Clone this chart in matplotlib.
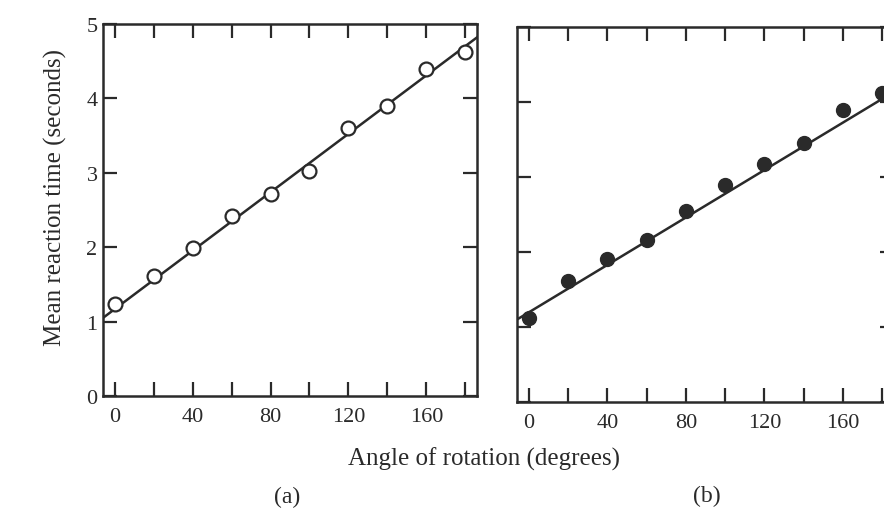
import matplotlib
matplotlib.use("Agg")
import matplotlib.pyplot as plt
import numpy as np

# Data
angles = [0, 20, 40, 60, 80, 100, 120, 140, 160, 180]
rt_a = [1.23, 1.61, 1.99, 2.42, 2.71, 3.03, 3.60, 3.90, 4.39, 4.62]
rt_b = [1.12, 1.62, 1.91, 2.16, 2.55, 2.89, 3.17, 3.45, 3.90, 4.12]
line_a_x = [-6, 186]
line_a_y = [1.05, 4.82]
line_b_x = [-6, 190]
line_b_y = [1.10, 4.20]
xtick_labels = ["0", "40", "80", "120", "160"]
ytick_labels = ["0", "1", "2", "3", "4", "5"]

W, H = 884, 510
fig = plt.figure(figsize=(W / 100, H / 100), dpi=100)
fig.patch.set_facecolor("white")
serif = ["Liberation Serif", "DejaVu Serif"]
ink = "#2a2a2a"

def axes_px(l, r, t, b):
    return fig.add_axes([l / W, 1 - b / H, (r - l) / W, (b - t) / H])

ax_a = axes_px(103, 477, 25, 397)
ax_b = axes_px(517, 894, 28, 403)

for ax, rt, lx, ly, filled in [(ax_a, rt_a, line_a_x, line_a_y, False),
                               (ax_b, rt_b, line_b_x, line_b_y, True)]:
    ax.set_xlim(-6, 186)
    ax.set_ylim(0, 5)
    ax.plot(lx, ly, color=ink, lw=1.8, zorder=2, clip_on=True)
    if filled:
        ax.plot(angles, rt, "o", ms=10, color=ink, mec=ink, zorder=3)
    else:
        ax.plot(angles, rt, "o", ms=10, mfc="white", mec=ink, mew=1.6, zorder=3)
    ax.set_xticks(np.arange(0, 181, 20))
    ax.set_xticklabels([xtick_labels[i // 2] if i % 2 == 0 and i // 2 < len(xtick_labels) else ""
                        for i in range(10)], fontfamily=serif, fontsize=16, color=ink)
    ax.set_yticks(range(6))
    ax.tick_params(axis="both", direction="in", length=10, width=1.6, color=ink,
                   top=True, right=True, pad=8)
    for s in ax.spines.values():
        s.set_linewidth(1.8)
        s.set_color(ink)

ax_a.set_yticklabels(ytick_labels, fontfamily=serif, fontsize=16, color=ink)
ax_a.tick_params(axis="y", pad=4)
ax_b.set_yticklabels([])
ax_a.set_ylabel("Mean reaction time (seconds)", fontfamily=serif, fontsize=18,
                color=ink)
ax_a.yaxis.set_label_coords(-0.095, 0.535)

fig.text(484 / W, 1 - 459 / H, "Angle of rotation (degrees)", ha="center", va="center",
         fontfamily=serif, fontsize=18, color=ink)
fig.text(287 / W, 1 - 497 / H, "(a)", ha="center", va="center",
         fontfamily=serif, fontsize=17, color=ink)
fig.text(707 / W, 1 - 496 / H, "(b)", ha="center", va="center",
         fontfamily=serif, fontsize=17, color=ink)

fig.savefig("out.png", dpi=100, facecolor="white")
